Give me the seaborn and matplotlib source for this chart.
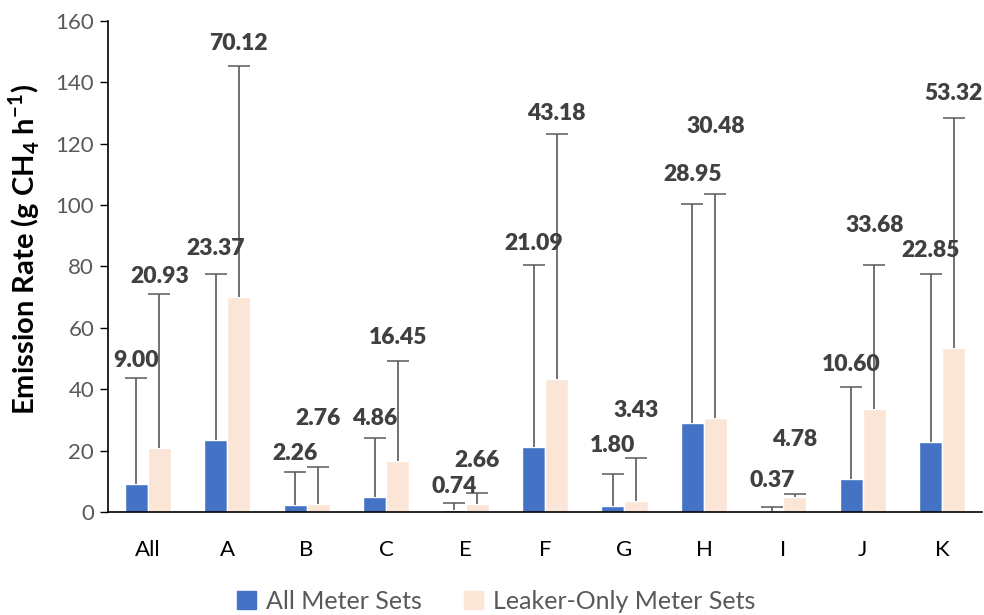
import numpy as np
import pandas as pd
import matplotlib
matplotlib.use("Agg")
import matplotlib.pyplot as plt
import seaborn as sns

# categories and series
groups = ["All", "A", "B", "C", "E", "F", "G", "H", "I", "J", "K"]
series = ["All Meter Sets", "Leaker-Only Meter Sets"]
mean_all = [9.00, 23.37, 2.26, 4.86, 0.74, 21.09, 1.80, 28.95, 0.37, 10.60, 22.85]
mean_leak = [20.93, 70.12, 2.76, 16.45, 2.66, 43.18, 3.43, 30.48, 4.78, 33.68, 53.32]
# upper error bar lengths (estimated)
err_all = [34.6, 54.2, 10.9, 19.1, 2.1, 59.4, 10.5, 71.5, 1.4, 30.2, 54.6]
err_leak = [50.1, 75.2, 12.0, 32.8, 3.4, 80.1, 14.3, 73.1, 1.1, 46.8, 74.9]
# heights where the value labels sit (placed by hand in the original)
label_y_all = [49.5, 86.0, 18.9, 30.3, 8.3, 87.5, 21.6, 109.8, 10.1, 48.2, 85.1]
label_y_leak = [76.6, 152.8, 30.3, 56.8, 16.9, 129.9, 33.0, 125.5, 23.5, 93.2, 136.4]

df = pd.DataFrame({
    "Group": groups * 2,
    "Series": [series[0]] * len(groups) + [series[1]] * len(groups),
    "Rate": mean_all + mean_leak,
})

sns.set_style("white")
plt.rcParams["font.family"] = ["Lato", "DejaVu Sans"]
plt.rcParams["mathtext.fontset"] = "custom"
plt.rcParams["mathtext.rm"] = "Lato:bold"

fig, ax = plt.subplots(figsize=(9.84, 6.15), dpi=100)
fig.subplots_adjust(left=0.1098, right=0.998, top=0.966, bottom=0.1675)

colors = ["#4472C4", "#FBE5D6"]
sns.barplot(data=df, x="Group", y="Rate", hue="Series", order=groups,
            hue_order=series, palette=colors, saturation=1, width=0.58,
            errorbar=None, ax=ax)

errs = [err_all, err_leak]
means = [mean_all, mean_leak]
labs = [label_y_all, label_y_leak]
bar_containers = list(ax.containers)
for k, cont in enumerate(bar_containers):
    xs = [p.get_x() + p.get_width() / 2 for p in cont.patches]
    hs = [p.get_height() for p in cont.patches]
    eb = ax.errorbar(xs, hs, yerr=[np.zeros(len(xs)), errs[k]], fmt="none",
                     ecolor="#595959", elinewidth=1.2, capsize=8,
                     capthick=1.1, zorder=3)
    # only the upper caps are shown
    eb.lines[1][0].set_visible(False)
    for x, m, ly in zip(xs, means[k], labs[k]):
        ax.text(x, ly, f"{m:.2f}", ha="center", va="center", fontsize=16.5,
                fontweight="heavy", color="#404040", zorder=4)

ax.set_ylim(0, 160)
ax.set_xlim(-0.5, len(groups) - 0.5)
ax.set_yticks(range(0, 161, 20))
ax.tick_params(axis="y", labelsize=16, labelcolor="#595959", length=6,
               width=1, color="black", direction="out", left=True, pad=4)
ax.tick_params(axis="x", labelsize=16, labelcolor="black", length=0, pad=20)

sns.despine(ax=ax)
for s in ["left", "bottom"]:
    ax.spines[s].set_color("black")
    ax.spines[s].set_linewidth(1.2)

ax.set_xlabel("")
ax.set_ylabel(r"Emission Rate (g CH$_\mathrm{4}$ h$^\mathrm{-1}$)", fontsize=21,
              fontweight="bold", color="black")
ax.yaxis.set_label_coords(-0.076, 0.535)

ax.legend_.remove()
handles = [plt.Rectangle((0, 0), 1, 1, color=c) for c in colors]
fig.legend(handles, series, loc="center", bbox_to_anchor=(0.504, 0.022),
           ncol=2, frameon=False, fontsize=18, labelcolor="#595959",
           handlelength=0.75, handleheight=0.75, handletextpad=0.4,
           columnspacing=1.7)

plt.savefig("out.png", dpi=100)
